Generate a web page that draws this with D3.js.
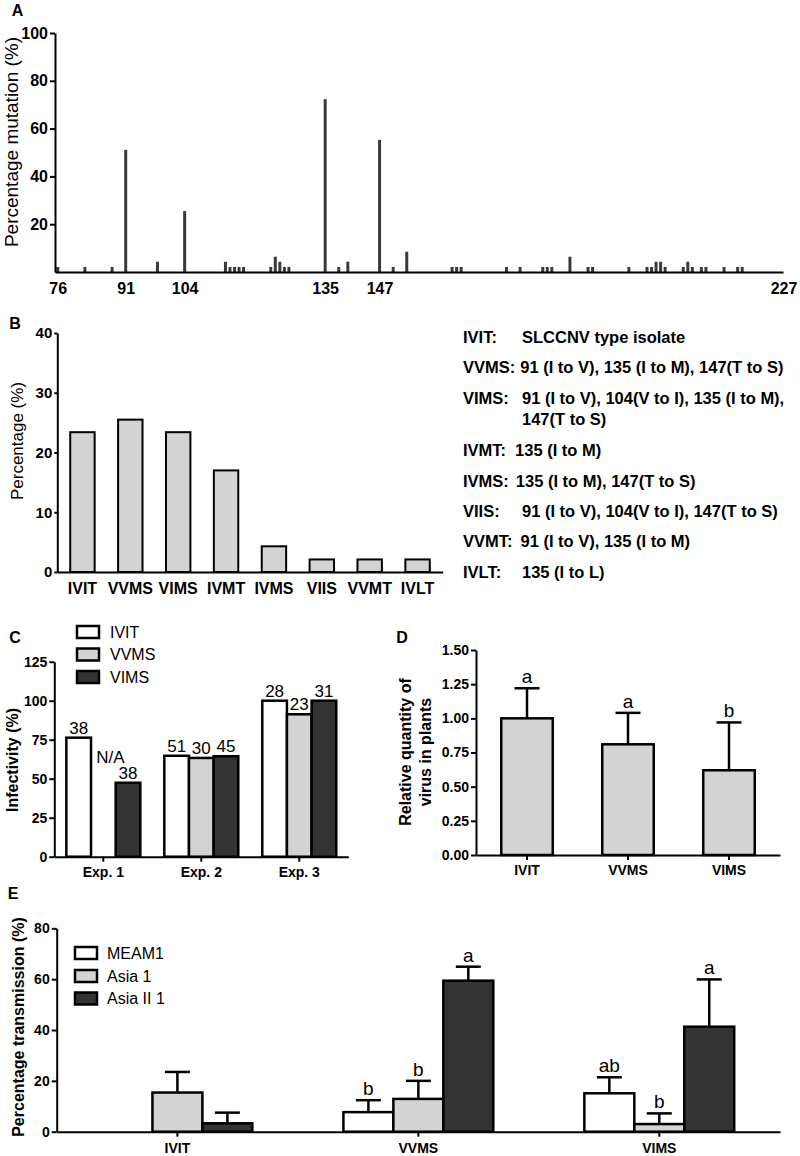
<!DOCTYPE html>
<html>
<head>
<meta charset="utf-8">
<script src="https://cdn.jsdelivr.net/npm/d3@7"></script>
<style>
  body { margin: 0; background: #fff; }
  svg { display: block; font-family: "Liberation Sans", Arial, sans-serif; }
  .axis path, .axis line { stroke: #000; stroke-width: 2px; }
  .axis text { font-weight: bold; fill: #000; }
</style>
</head>
<body>
<svg width="800" height="1156"></svg>
<script>
// ---- data ----
// A: mutation frequency by amino-acid position
var mutPos = [76, 82, 88, 91, 98, 104, 113, 114, 115, 116, 117, 123, 124, 125, 126, 127,
              135, 138, 140, 147, 150, 153, 163, 164, 165, 175, 178, 183, 184, 185, 189,
              193, 194, 202, 206, 207, 208, 209, 210, 214, 215, 216, 218, 219, 223, 226, 227];
var mutPct = [2.1, 2.1, 2.1, 51.1, 4.3, 25.5, 4.3, 2.1, 2.1, 2.1, 2.1, 2.1, 6.4, 4.3, 2.1, 2.1,
              72.3, 2.1, 4.3, 55.3, 2.1, 8.5, 2.1, 2.1, 2.1, 2.1, 2.1, 2.1, 2.1, 2.1, 6.4,
              2.1, 2.1, 2.1, 2.1, 2.1, 4.3, 4.3, 2.1, 2.1, 4.3, 2.1, 2.1, 2.1, 2.1, 2.1, 2.1];
var aTicks = [76, 91, 104, 135, 147];
var aEndLabel = "227";
var aYTicks = [20, 40, 60, 80, 100];

// B: isolate types
var bCats = ["IVIT", "VVMS", "VIMS", "IVMT", "IVMS", "VIIS", "VVMT", "IVLT"];
var bVals = [23.4, 25.5, 23.4, 17.0, 4.3, 2.1, 2.1, 2.1];
var bNoteKeys = ["IVIT:", "VVMS:", "VIMS:", "", "IVMT:", "IVMS:", "VIIS:", "VVMT:", "IVLT:"];
var bNoteText = ["SLCCNV type isolate",
                 "91 (I to V), 135 (I to M), 147(T to S)",
                 "91 (I to V), 104(V to I), 135 (I to M),",
                 "147(T to S)",
                 "135 (I to M)",
                 "135 (I to M), 147(T to S)",
                 "91 (I to V), 104(V to I), 147(T to S)",
                 "91 (I to V), 135 (I to M)",
                 "135 (I to L)"];

// C: infectivity
var cGroups = ["Exp. 1", "Exp. 2", "Exp. 3"];
var cSeries = ["IVIT", "VVMS", "VIMS"];
var cIVIT = [76.3, 64.7, 100];
var cVVMS = [null, 63.3, 91.3];
var cVIMS = [47.4, 64.4, 100];
var cN_IVIT = ["38", "51", "28"];
var cN_VVMS = ["N/A", "30", "23"];
var cN_VIMS = ["38", "45", "31"];

// D: relative virus quantity
var dCats = ["IVIT", "VVMS", "VIMS"];
var dMean = [1.00, 0.81, 0.62];
var dErr = [0.22, 0.23, 0.35];
var dLetters = ["a", "a", "b"];

// E: transmission by whitefly species
var eGroups = ["IVIT", "VVMS", "VIMS"];
var eSeries = ["MEAM1", "Asia 1", "Asia II 1"];
var eMEAM1 = [0, 7.7, 15.1];
var eMEAM1Err = [0, 4.7, 6.3];
var eAsia1 = [15.4, 12.9, 3.0];
var eAsia1Err = [8.1, 7.1, 4.2];
var eAsiaII1 = [3.3, 59.4, 41.3];
var eAsiaII1Err = [4.2, 5.5, 18.6];
var eMEAM1Let = ["", "b", "ab"];
var eAsia1Let = ["", "b", "b"];
var eAsiaII1Let = ["", "a", "a"];

var fills = ["#ffffff", "#d3d3d3", "#333333"];

var svg = d3.select("svg");
svg.append("rect").attr("width", 800).attr("height", 1156).attr("fill", "#fff");

function panelLabel(t, x, y) {
  svg.append("text").attr("x", x).attr("y", y).attr("dy", "0.35em")
    .attr("text-anchor", "middle").style("font-size", "16px").style("font-weight", "bold")
    .text(t);
}
function yTitle(lines, cx, cy, size, bold, gap) {
  lines.forEach(function (t, i) {
    svg.append("text")
      .attr("transform", "translate(" + (cx + i * (gap || 0)) + "," + cy + ") rotate(-90)")
      .attr("text-anchor", "middle").attr("dy", "0.35em")
      .style("font-size", size + "px").style("font-weight", bold ? "bold" : "normal")
      .text(t);
  });
}
// upward-only error bar with cap and significance letter
function errBar(g, cx, yTop, yEnd, letter) {
  g.append("line").attr("x1", cx).attr("x2", cx).attr("y1", yTop).attr("y2", yEnd)
    .attr("stroke", "#000").attr("stroke-width", 2.5);
  g.append("line").attr("x1", cx - 12.5).attr("x2", cx + 12.5).attr("y1", yEnd).attr("y2", yEnd)
    .attr("stroke", "#000").attr("stroke-width", 2.5);
  if (letter) {
    g.append("text").attr("x", cx).attr("y", yEnd - 5).attr("text-anchor", "middle")
      .style("font-size", "19px").text(letter);
  }
}

// ================= A =================
var xA = d3.scaleLinear().domain([75.4, 236]).range([55, 783]);
var yA = d3.scaleLinear().domain([0, 100]).range([272, 33]);
var gA = svg.append("g");
gA.selectAll("rect").data(mutPos).enter().append("rect")
  .attr("x", function (d) { return xA(d) - 1.5; })
  .attr("width", 3)
  .attr("y", function (d, i) { return yA(mutPct[i]); })
  .attr("height", function (d, i) { return yA(0) - yA(mutPct[i]); })
  .attr("fill", "#3a3a3a");
gA.append("g").attr("class", "axis").attr("transform", "translate(55,0)")
  .call(d3.axisLeft(yA).tickValues(aYTicks).tickSize(5).tickSizeOuter(0).tickPadding(2))
  .selectAll("text").style("font-size", "16px");
gA.append("g").attr("class", "axis").attr("transform", "translate(0,272)")
  .call(d3.axisBottom(xA).tickValues(aTicks).tickSize(0).tickSizeOuter(0).tickPadding(11))
  .selectAll("text").style("font-size", "16px");
gA.append("text").attr("x", 784).attr("y", 272 + 11 + 11.4).attr("text-anchor", "middle")
  .style("font-size", "16px").style("font-weight", "bold").text(aEndLabel);
panelLabel("A", 17.5, 10);
yTitle(["Percentage mutation (%)"], 11, 142, 19, false);

// ================= B =================
var xB = d3.scaleBand().domain(bCats).range([57.3, 442.7]).paddingInner(0.49).paddingOuter(0.27);
var yB = d3.scaleLinear().domain([0, 40]).range([572, 333]);
var gB = svg.append("g");
gB.selectAll("rect").data(bCats).enter().append("rect")
  .attr("x", function (d) { return xB(d); })
  .attr("width", xB.bandwidth())
  .attr("y", function (d, i) { return yB(bVals[i]); })
  .attr("height", function (d, i) { return yB(0) - yB(bVals[i]); })
  .attr("fill", "#d3d3d3").attr("stroke", "#000").attr("stroke-width", 2);
gB.append("g").attr("class", "axis").attr("transform", "translate(57.3,0)")
  .call(d3.axisLeft(yB).tickValues([0, 10, 20, 30, 40]).tickSize(3).tickSizeOuter(0).tickPadding(2))
  .selectAll("text").style("font-size", "15px");
gB.append("g").attr("class", "axis").attr("transform", "translate(0,572)")
  .call(d3.axisBottom(xB).tickSize(0).tickSizeOuter(0).tickPadding(11))
  .selectAll("text").style("font-size", "16px");
panelLabel("B", 15, 323);
yTitle(["Percentage (%)"], 17, 441, 17, false);

// isolate descriptions to the right of panel B
// column: fixed x for the wide-gap rows, null = just after the key
var noteRows = [337, 367, 398, 419, 450, 481, 511, 541, 572];
var noteCol = [522, null, 522, 522, null, null, 522, null, 522];
var noteGap = [0, 5, 0, 0, 9, 7, 0, 8, 0];
var gNote = svg.append("g").style("font-size", "16.5px").style("font-weight", "bold");
bNoteText.forEach(function (t, i) {
  var keyEnd = 463;
  if (bNoteKeys[i]) {
    var k = gNote.append("text").attr("x", 463).attr("y", noteRows[i]).attr("dy", "0.35em").text(bNoteKeys[i]);
    keyEnd = 463 + k.node().getComputedTextLength();
  }
  var tx = noteCol[i] != null ? noteCol[i] : keyEnd + noteGap[i];
  gNote.append("text").attr("x", tx).attr("y", noteRows[i]).attr("dy", "0.35em").text(t);
});

// ================= C =================
var cVals = [cIVIT, cVVMS, cVIMS];
var cNs = [cN_IVIT, cN_VVMS, cN_VIMS];
var xC = d3.scaleBand().domain(cGroups).range([54.3, 348.3]).paddingInner(0.245).paddingOuter(0.123);
var xCs = d3.scaleBand().domain(cSeries).range([0, xC.bandwidth()]);
var yC = d3.scaleLinear().domain([0, 125]).range([856.7, 661.7]);
var gC = svg.append("g");
cGroups.forEach(function (grp, gi) {
  cSeries.forEach(function (s, si) {
    var v = cVals[si][gi];
    var x0 = xC(grp) + xCs(s);
    if (v != null) {
      gC.append("rect").attr("x", x0).attr("width", xCs.bandwidth())
        .attr("y", yC(v)).attr("height", yC(0) - yC(v))
        .attr("fill", fills[si]).attr("stroke", "#000").attr("stroke-width", 2.5);
      gC.append("text").attr("x", x0 + xCs.bandwidth() / 2).attr("y", yC(v) - 4)
        .attr("text-anchor", "middle").style("font-size", "17px").text(cNs[si][gi]);
    } else {
      // missing bar: N/A written above the neighbouring bar
      gC.append("text").attr("x", x0 + xCs.bandwidth() / 2 + 7)
        .attr("y", yC(cVals[2][gi]) - 26).attr("dy", "0.35em")
        .attr("text-anchor", "middle").style("font-size", "17px").text(cNs[si][gi]);
    }
  });
});
gC.append("g").attr("class", "axis").attr("transform", "translate(54.3,0)")
  .call(d3.axisLeft(yC).tickValues([0, 25, 50, 75, 100, 125]).tickSize(5).tickSizeOuter(0).tickPadding(2))
  .selectAll("text").style("font-size", "14px");
gC.append("g").attr("class", "axis").attr("transform", "translate(0,856.7)")
  .call(d3.axisBottom(xC).tickSize(5).tickSizeOuter(0).tickPadding(5))
  .selectAll("text").style("font-size", "14px");
var legC = svg.append("g");
var legCRows = [632, 654.5, 677];
cSeries.forEach(function (s, i) {
  legC.append("rect").attr("x", 77).attr("y", legCRows[i] - 6).attr("width", 22).attr("height", 12)
    .attr("fill", fills[i]).attr("stroke", "#000").attr("stroke-width", 2.5);
  legC.append("text").attr("x", 110).attr("y", legCRows[i]).attr("dy", "0.35em")
    .style("font-size", "16px").text(s);
});
panelLabel("C", 15, 637);
yTitle(["Infectivity (%)"], 12, 760, 16, true);

// ================= D =================
var xD = d3.scaleBand().domain(dCats).range([476, 780]).paddingInner(0.49).paddingOuter(0.25);
var yD = d3.scaleLinear().domain([0, 1.5]).range([855, 650]);
var gD = svg.append("g");
dCats.forEach(function (c, i) {
  var cx = xD(c) + xD.bandwidth() / 2;
  errBar(gD, cx, yD(dMean[i]), yD(dMean[i] + dErr[i]), dLetters[i]);
  gD.append("rect").attr("x", xD(c)).attr("width", xD.bandwidth())
    .attr("y", yD(dMean[i])).attr("height", yD(0) - yD(dMean[i]))
    .attr("fill", "#d3d3d3").attr("stroke", "#000").attr("stroke-width", 2.5);
});
gD.append("g").attr("class", "axis").attr("transform", "translate(476,0)")
  .call(d3.axisLeft(yD).tickValues([0, 0.25, 0.5, 0.75, 1, 1.25, 1.5]).tickFormat(d3.format(".2f"))
    .tickSize(5).tickSizeOuter(0).tickPadding(2))
  .selectAll("text").style("font-size", "14px");
gD.append("g").attr("class", "axis").attr("transform", "translate(0,855)")
  .call(d3.axisBottom(xD).tickSize(5).tickSizeOuter(0).tickPadding(5))
  .selectAll("text").style("font-size", "14px");
panelLabel("D", 402, 637);
yTitle(["Relative quantity of", "virus in plants"], 405, 752, 16, true, 20);

// ================= E =================
var eVals = [eMEAM1, eAsia1, eAsiaII1];
var eErrs = [eMEAM1Err, eAsia1Err, eAsiaII1Err];
var eLets = [eMEAM1Let, eAsia1Let, eAsiaII1Let];
var xE = d3.scaleBand().domain(eGroups).range([56.7, 780]).paddingInner(0.378).paddingOuter(0.19);
var xEs = d3.scaleBand().domain(eSeries).range([0, xE.bandwidth()]);
var yE = d3.scaleLinear().domain([0, 80]).range([1131.7, 928.3]);
var gE = svg.append("g");
eGroups.forEach(function (grp, gi) {
  eSeries.forEach(function (s, si) {
    var v = eVals[si][gi];
    if (!v) return;
    var x0 = xE(grp) + xEs(s);
    errBar(gE, x0 + xEs.bandwidth() / 2, yE(v), yE(v + eErrs[si][gi]), eLets[si][gi]);
  });
  eSeries.forEach(function (s, si) {
    var v = eVals[si][gi];
    if (!v) return;
    gE.append("rect").attr("x", xE(grp) + xEs(s)).attr("width", xEs.bandwidth())
      .attr("y", yE(v)).attr("height", yE(0) - yE(v))
      .attr("fill", fills[si]).attr("stroke", "#000").attr("stroke-width", 2.5);
  });
});
gE.append("g").attr("class", "axis").attr("transform", "translate(56.7,0)")
  .call(d3.axisLeft(yE).tickValues([0, 20, 40, 60, 80]).tickSize(5).tickSizeOuter(0).tickPadding(2))
  .selectAll("text").style("font-size", "14px");
gE.append("g").attr("class", "axis").attr("transform", "translate(0,1131.7)")
  .call(d3.axisBottom(xE).tickSize(5).tickSizeOuter(0).tickPadding(6))
  .selectAll("text").style("font-size", "14px");
var legE = svg.append("g");
var legERows = [953, 976, 998.5];
eSeries.forEach(function (s, i) {
  legE.append("rect").attr("x", 75).attr("y", legERows[i] - 6).attr("width", 22).attr("height", 12)
    .attr("fill", fills[i]).attr("stroke", "#000").attr("stroke-width", 2.5);
  legE.append("text").attr("x", 107).attr("y", legERows[i]).attr("dy", "0.35em")
    .style("font-size", "16px").text(s);
});
panelLabel("E", 13, 893);
yTitle(["Percentage transmission (%)"], 18, 1027, 16, true);
</script>
</body>
</html>
